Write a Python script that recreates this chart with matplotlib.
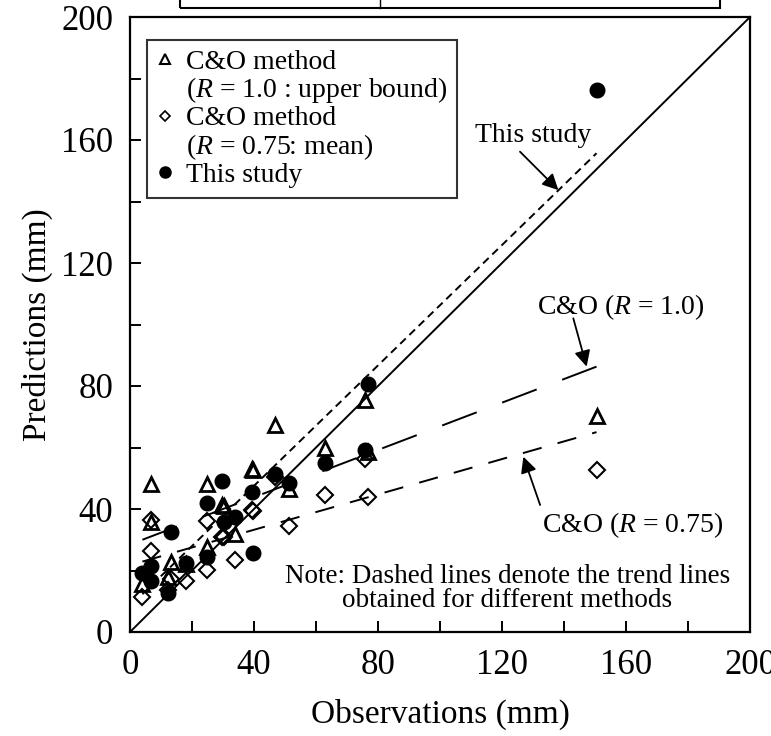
import numpy as np
import matplotlib.pyplot as plt
from matplotlib.lines import Line2D
from matplotlib.patches import Rectangle

plt.rcParams['font.family'] = ['Liberation Serif', 'DejaVu Serif']
plt.rcParams['mathtext.fontset'] = 'custom'
plt.rcParams['mathtext.rm'] = 'Liberation Serif'
plt.rcParams['mathtext.it'] = 'Liberation Serif:italic'

# observed vs predicted (mm)
observed = [4.0, 6.8, 6.8, 13.2, 12.3, 18.2, 24.7, 24.7, 29.8, 30.4,
            33.8, 39.3, 39.7, 46.7, 51.2, 63.0, 75.8, 76.9, 150.5]
co_upper = [15.6, 48.1, 35.9, 22.9, 18.0, 22.1, 48.1, 27.7, 41.3, 41.0,
            31.9, 52.9, 52.6, 67.3, 46.5, 59.7, 75.6, 58.6, 70.4]
co_mean = [11.5, 36.4, 26.4, 17.1, 13.5, 16.6, 36.1, 20.2, 31.0, 30.8,
           23.4, 39.7, 39.4, 50.4, 34.6, 44.7, 56.1, 44.0, 52.7]
this_study = [19.1, 21.5, 16.6, 32.6, 12.6, 22.5, 42.0, 24.5, 49.2, 35.9,
              37.3, 45.6, 25.6, 51.3, 48.6, 54.9, 59.3, 80.8, 176.3]

# trend line end points
trend_x = [4.0, 150.5]
trend_this = [12.3, 155.7]
trend_upper = [30.0, 86.3]
trend_mean = [22.9, 65.0]

fig = plt.figure(figsize=(7.71, 7.36), dpi=100)
ax = fig.add_axes([130 / 771, 1 - 632 / 736, 620 / 771, 615 / 736])

ax.plot([0, 200], [0, 200], color='k', lw=1.4)
ax.plot(trend_x, trend_this, color='k', lw=1.4, linestyle=(0, (4.0, 2.6)))
ax.plot(trend_x, trend_upper, color='k', lw=1.4, linestyle=(0, (19, 14)))
ax.plot(trend_x, trend_mean, color='k', lw=1.4, linestyle=(0, (10, 8.5)))

ax.plot(observed, co_upper, linestyle='none', marker='^', ms=10.5,
        mfc='none', mec='k', mew=2.0)
ax.plot(observed, co_mean, linestyle='none', marker='D', ms=8,
        mfc='none', mec='k', mew=1.5)
ax.plot(observed, this_study, linestyle='none', marker='o', ms=10.5,
        mfc='k', mec='k')

ax.set_xlim(0, 200)
ax.set_ylim(0, 200)
ax.set_xticks(np.arange(0, 201, 40))
ax.set_yticks(np.arange(0, 201, 40))
ax.set_xticks(np.arange(0, 201, 20), minor=True)
ax.set_yticks(np.arange(0, 201, 20), minor=True)
ax.tick_params(which='both', direction='in', length=8, width=1.4,
               labelsize=25, top=False, right=False)
ax.tick_params(axis='x', pad=12)
ax.tick_params(axis='y', pad=12)
for s in ax.spines.values():
    s.set_linewidth(1.6)

ax.set_xlabel('Observations (mm)', fontsize=24, labelpad=12)
ax.set_ylabel('Predictions (mm)', fontsize=24, labelpad=6)

handles = [
    Line2D([], [], linestyle='none', marker='^', ms=7, mfc='none', mec='k', mew=1.5),
    Line2D([], [], linestyle='none'),
    Line2D([], [], linestyle='none', marker='D', ms=5.5, mfc='none', mec='k', mew=1.2),
    Line2D([], [], linestyle='none'),
    Line2D([], [], linestyle='none', marker='o', ms=8, mfc='k', mec='k'),
]
labels = ['C&O method', '($R$ = 1.0 : upper bound)', 'C&O method',
          '($R$ = 0.75: mean)', 'This study']
leg = ax.legend(handles, labels, loc='upper left', bbox_to_anchor=(0.027, 0.963),
                borderaxespad=0, fontsize=20, fancybox=False, frameon=True,
                handlelength=0.6, handletextpad=0.45, labelspacing=0.02,
                borderpad=0.35, edgecolor='k')
leg.get_frame().set_linewidth(1.5)

arrow = dict(arrowstyle='-|>', color='k', lw=1.3, mutation_scale=24,
             shrinkA=0, shrinkB=0)
ax.text(130, 161.6, 'This study', ha='center', va='center', fontsize=20)
ax.annotate('', xy=(138.2, 143.7), xytext=(125.8, 156.2), arrowprops=arrow)
ax.text(158.4, 105.8, 'C&O ($R$ = 1.0)', ha='center', va='center', fontsize=20)
ax.annotate('', xy=(147.3, 86.3), xytext=(143.0, 102.0), arrowprops=arrow)
ax.text(162.0, 34.8, 'C&O ($R$ = 0.75)', ha='center', va='center', fontsize=20)
ax.annotate('', xy=(126.9, 57.0), xytext=(132.3, 41.3), arrowprops=arrow)
ax.text(193.5, 14.1, 'Note: Dashed lines denote the trend lines\nobtained for different methods',
        ha='right', va='center', multialignment='center', fontsize=19.5,
        linespacing=0.95)

# clipped box at the top edge of the page
fig.patches.append(Rectangle((180 / 771, 1 - 8 / 736), 540 / 771, 0.05,
                             transform=fig.transFigure, fill=False,
                             edgecolor='k', lw=1.5))
fig.add_artist(Line2D([380 / 771, 380 / 771], [1 - 8 / 736, 1.0],
                      transform=fig.transFigure, color='k', lw=1.0))

fig.savefig('out.png', dpi=100)
